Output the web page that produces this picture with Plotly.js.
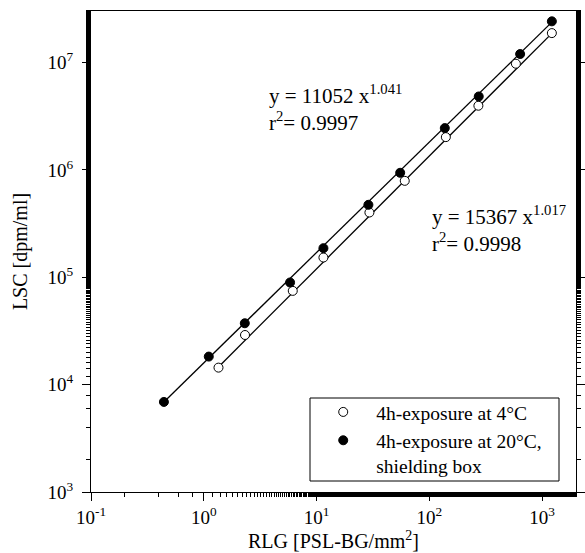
<!DOCTYPE html>
<html>
<head>
<meta charset="utf-8">
<script src="https://cdn.plot.ly/plotly-3.0.1.min.js"></script>
<style>html,body{margin:0;padding:0;background:#fff;}#chart{width:585px;height:553px;}</style>
</head>
<body>
<div id="chart"></div>
<script>
// 4h-exposure at 4°C (open circles)
const openX = [1.35, 2.32, 6.15, 11.5, 29.4, 60.5, 140, 272, 585, 1219];
const openY = [14400, 29000, 74700, 152700, 401000, 791000, 2020000, 3960000, 9750000, 18800000];
// 4h-exposure at 20°C, shielding box (filled circles)
const filledX = [0.443, 1.107, 2.31, 5.82, 11.5, 28.8, 55.1, 137, 274, 638, 1219];
const filledY = [6900, 18250, 37300, 89400, 186600, 473000, 940000, 2450000, 4830000, 12000000, 24200000];
// fitted power-law lines (endpoints)
const fitOpenX = [1.35, 1219];
const fitOpenY = [14600, 18700000];
const fitFilledX = [0.443, 1219];
const fitFilledY = [6900, 23800000];

const xTickVals = [0.1, 1, 10, 100, 1000];
const xTickText = ['10<sup>-1</sup>', '10<sup>0</sup>', '10<sup>1</sup>', '10<sup>2</sup>', '10<sup>3</sup>'];
const yTickVals = [1e3, 1e4, 1e5, 1e6, 1e7];
const yTickText = ['10<sup>3</sup>', '10<sup>4</sup>', '10<sup>5</sup>', '10<sup>6</sup>', '10<sup>7</sup>'];

const legendOpen = '4h-exposure at 4°C';
const legendFilled = '4h-exposure at 20°C,<br>shielding box';
const eq1 = 'y = 11052 x<sup>1.041</sup><br>r<sup>2</sup>= 0.9997';
const eq2 = 'y = 15367 x<sup>1.017</sup><br>r<sup>2</sup>= 0.9998';

const FONT = 'Liberation Serif, Times New Roman, serif';

const traces = [
  {x: fitFilledX, y: fitFilledY, mode: 'lines', line: {color: '#000', width: 1.3}, showlegend: false, hoverinfo: 'skip'},
  {x: fitOpenX, y: fitOpenY, mode: 'lines', line: {color: '#000', width: 1.3}, showlegend: false, hoverinfo: 'skip'},
  {x: openX, y: openY, mode: 'markers', name: legendOpen,
   marker: {symbol: 'circle', size: 9, color: '#fff', line: {color: '#000', width: 1}}},
  {x: filledX, y: filledY, mode: 'markers', name: legendFilled,
   marker: {symbol: 'circle', size: 9, color: '#000', line: {color: '#000', width: 1}}}
];

const layout = {
  width: 585, height: 553,
  margin: {l: 91, r: 9, t: 11, b: 61},
  paper_bgcolor: '#fff', plot_bgcolor: '#fff',
  font: {family: FONT, size: 18, color: '#000'},
  showlegend: true,
  legend: {
    x: 0.452, y: 0.013, xanchor: 'left', yanchor: 'bottom',
    bgcolor: 'rgba(0,0,0,0)', borderwidth: 0, valign: 'top',
    font: {family: FONT, size: 19.5, color: '#000'},
    itemsizing: 'trace', itemwidth: 56, tracegroupgap: 0
  },
  shapes: [
    {type: 'rect', xref: 'paper', yref: 'paper', layer: 'below',
     x0: (310 - 91) / 485, x1: (559 - 91) / 485, y0: (492 - 481) / 481, y1: (492 - 398) / 481,
     line: {color: '#000', width: 1}, fillcolor: '#fff'}
  ],
  xaxis: {
    type: 'log', range: [-1, 3.3],
    tickvals: xTickVals, ticktext: xTickText,
    ticks: 'outside', ticklen: 8, tickwidth: 1, tickcolor: '#000',
    minor: {ticks: 'outside', ticklen: 4, tickwidth: 1, tickcolor: '#000', showgrid: false},
    showline: true, linecolor: '#000', linewidth: 1, mirror: true,
    showgrid: false, zeroline: false,
    tickfont: {family: FONT, size: 19},
    title: {text: 'RLG [PSL-BG/mm<sup>2</sup>]', font: {family: FONT, size: 20}, standoff: 6}
  },
  yaxis: {
    type: 'log', range: [3, 7.48],
    tickvals: yTickVals, ticktext: yTickText,
    ticks: 'outside', ticklen: 8, tickwidth: 1, tickcolor: '#000',
    ticklabelstandoff: 5,
    minor: {ticks: 'outside', ticklen: 4, tickwidth: 1, tickcolor: '#000', showgrid: false},
    showline: true, linecolor: '#000', linewidth: 1, mirror: 'ticks',
    showgrid: false, zeroline: false,
    tickfont: {family: FONT, size: 19},
    title: {text: 'LSC [dpm/ml]', font: {family: FONT, size: 20}, standoff: 14}
  },
  annotations: [
    {xref: 'paper', yref: 'paper', x: (267 - 91) / 485, y: (492 - 79) / 481, xanchor: 'left', yanchor: 'top',
     text: eq1, showarrow: false, align: 'left', font: {family: FONT, size: 21, color: '#000'}},
    {xref: 'paper', yref: 'paper', x: (430 - 91) / 485, y: (492 - 200) / 481, xanchor: 'left', yanchor: 'top',
     text: eq2, showarrow: false, align: 'left', font: {family: FONT, size: 21, color: '#000'}}
  ]
};

Plotly.newPlot('chart', traces, layout, {displayModeBar: false, staticPlot: true});
</script>
</body>
</html>
